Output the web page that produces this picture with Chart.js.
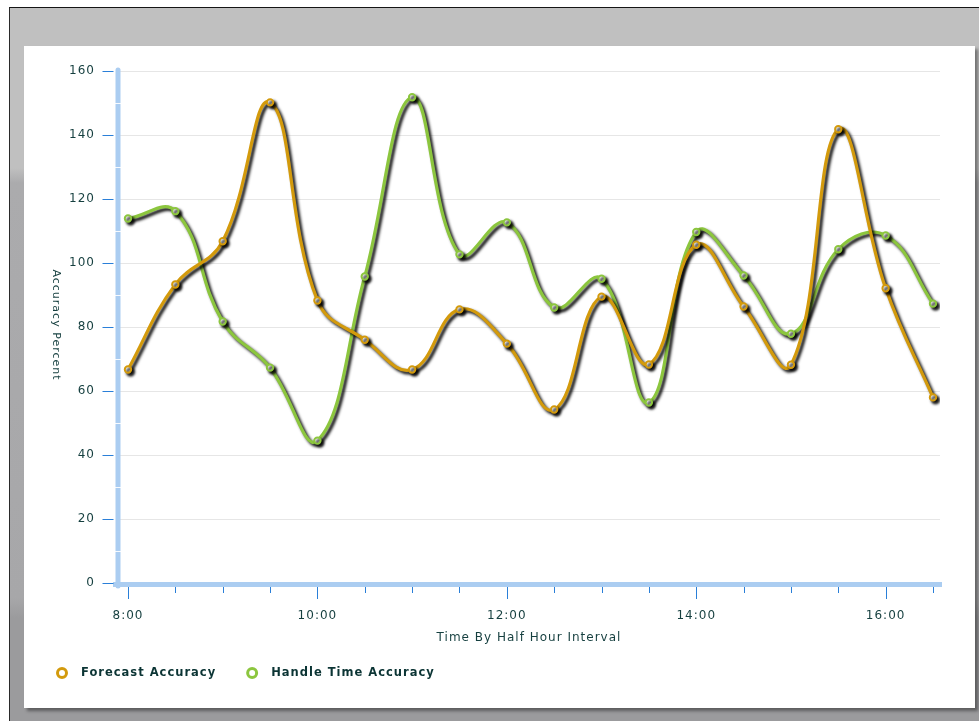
<!DOCTYPE html>
<html>
<head>
<meta charset="utf-8">
<script src="https://cdn.jsdelivr.net/npm/chart.js@4.4.1/dist/chart.umd.min.js"></script>
<style>
html,body{margin:0;padding:0;background:#fff;width:979px;height:721px;overflow:hidden;}
#frame{position:absolute;left:9px;top:7px;width:970px;height:714px;border-top:1px solid #151515;border-left:1px solid #2a2a2a;box-sizing:border-box;
  background:linear-gradient(to bottom,#c0c0c0 0px,#c0c0c0 160px,#ababad 175px,#a7a7a9 590px,#9b9b9d 610px,#9b9b9d 714px);}
#panel{position:absolute;left:24px;top:46px;width:951px;height:662px;background:#fff;box-shadow:3px 3px 3px rgba(0,0,0,0.4);}
canvas{display:block;}
</style>
</head>
<body>
<div id="frame"></div>
<div id="panel"><canvas id="c" width="951" height="662"></canvas></div>
<script>
// ---- data ----
const times = ['8:00','8:30','9:00','9:30','10:00','10:30','11:00','11:30','12:00','12:30',
               '13:00','13:30','14:00','14:30','15:00','15:30','16:00','16:30'];
const shownTimeLabels = ['8:00','10:00','12:00','14:00','16:00'];
const forecastAccuracy = [66.7, 93.3, 106.8, 150.2, 88.3, 76.0, 66.7, 85.5, 74.8, 54.2,
                          89.5, 68.3, 105.7, 86.4, 68.2, 141.8, 92.1, 58.0];
const handleTimeAccuracy = [113.9, 116.2, 81.7, 67.3, 44.5, 95.8, 151.8, 102.7, 112.7, 86.1,
                            95.1, 56.4, 109.7, 96.1, 77.9, 104.3, 108.6, 87.3];
const yTickValues = [0, 20, 40, 60, 80, 100, 120, 140, 160];
const yMinorValues = [10, 30, 50, 70, 90, 110, 130, 150];
const seriesNames = ['Forecast Accuracy', 'Handle Time Accuracy'];

// ---- styles ----
const FONT = 'DejaVu Sans';
const TXT = '#153f3f';
const LEG = '#0b3434';
const AXIS = '#abcdf1';
const TICK = '#2a7fd8';
const ORANGE = '#d39a0c';
const GREEN = '#8cc63e';

const spacing = {
  id: 'spacing',
  beforeUpdate(chart) { chart.ctx.letterSpacing = '1px'; },
  beforeDraw(chart) { chart.ctx.letterSpacing = '1px'; }
};

const shadow = {
  id: 'shadow',
  beforeDatasetDraw(chart) {
    const ctx = chart.ctx;
    ctx.save();
    ctx.shadowColor = 'rgba(0,0,0,1)';
    ctx.shadowBlur = 3;
    ctx.shadowOffsetX = 2.5;
    ctx.shadowOffsetY = 2.5;
  },
  afterDatasetDraw(chart) { chart.ctx.restore(); }
};

const axisDeco = {
  id: 'axisDeco',
  beforeDatasetsDraw(chart) {
    const {ctx, chartArea: a, scales: {x, y}} = chart;
    ctx.save();
    ctx.strokeStyle = AXIS;
    ctx.lineWidth = 5;
    ctx.lineCap = 'round';
    ctx.beginPath();
    ctx.moveTo(a.left, a.top - 1);
    ctx.lineTo(a.left, a.bottom + 3);
    ctx.stroke();
    ctx.lineCap = 'butt';
    ctx.beginPath();
    ctx.moveTo(a.left - 5, a.bottom + 1.5);
    ctx.lineTo(a.right + 2, a.bottom + 1.5);
    ctx.stroke();
    // small gaps on the y axis band
    ctx.strokeStyle = 'rgba(255,255,255,0.9)';
    ctx.lineWidth = 1;
    yMinorValues.forEach(v => {
      const py = Math.round(y.getPixelForValue(v)) + 0.5;
      ctx.beginPath(); ctx.moveTo(a.left - 3, py); ctx.lineTo(a.left + 3, py); ctx.stroke();
    });
    // y tick marks
    ctx.strokeStyle = TICK;
    yTickValues.forEach(v => {
      const py = Math.round(y.getPixelForValue(v)) + 0.5;
      ctx.beginPath(); ctx.moveTo(a.left - 15.5, py); ctx.lineTo(a.left - 4.5, py); ctx.stroke();
    });
    // x tick marks
    times.forEach((t, i) => {
      const px = Math.round(x.getPixelForValue(i)) + 0.5;
      const len = shownTimeLabels.includes(t) ? 12 : 6;
      ctx.beginPath(); ctx.moveTo(px, a.bottom + 4); ctx.lineTo(px, a.bottom + 4 + len); ctx.stroke();
    });
    ctx.restore();
  }
};

const extras = {
  id: 'extras',
  afterDraw(chart) {
    const {ctx, chartArea: a} = chart;
    ctx.save();
    ctx.letterSpacing = '1px';
    // y axis title, reading top to bottom
    ctx.fillStyle = TXT;
    ctx.font = '11px "' + FONT + '"';
    ctx.translate(32, (a.top + a.bottom) / 2 - 2);
    ctx.rotate(Math.PI / 2);
    ctx.textAlign = 'center';
    ctx.textBaseline = 'middle';
    ctx.fillText('Accuracy Percent', 0, 0);
    ctx.restore();

    // legend
    ctx.save();
    ctx.letterSpacing = '1px';
    ctx.font = 'bold 11.5px "' + FONT + '"';
    ctx.textBaseline = 'middle';
    ctx.textAlign = 'left';
    const ly = 627;
    let cx = 38;
    chart.data.datasets.forEach(ds => {
      ctx.beginPath();
      ctx.arc(cx, ly, 4.5, 0, Math.PI * 2);
      ctx.fillStyle = '#fff';
      ctx.fill();
      ctx.lineWidth = 3;
      ctx.strokeStyle = ds.borderColor;
      ctx.stroke();
      const tx = cx + 19;
      ctx.fillStyle = LEG;
      ctx.fillText(ds.label, tx, ly + 0.5);
      cx = tx + ctx.measureText(ds.label).width + 36;
    });
    ctx.restore();
  }
};

const toPoints = arr => arr.map((v, i) => ({x: i, y: v}));

new Chart(document.getElementById('c'), {
  type: 'line',
  data: {
    datasets: [
      {label: seriesNames[0], data: toPoints(forecastAccuracy), borderColor: ORANGE,
       pointBorderColor: ORANGE, pointBackgroundColor: '#fff'},
      {label: seriesNames[1], data: toPoints(handleTimeAccuracy), borderColor: GREEN,
       pointBorderColor: GREEN, pointBackgroundColor: '#fff'}
    ]
  },
  options: {
    responsive: false,
    animation: false,
    events: [],
    layout: {padding: {left: 0, right: 35, top: 25, bottom: 64}},
    elements: {
      line: {tension: 0.42, borderWidth: 3.2, fill: false},
      point: {radius: 3.2, borderWidth: 2}
    },
    plugins: {legend: {display: false}, tooltip: {enabled: false}},
    scales: {
      x: {
        type: 'linear', min: -0.211, max: 17.148,
        afterBuildTicks: s => { s.ticks = times.map((t, i) => ({value: i})); },
        afterFit: s => { s.height = 61; },
        grid: {display: false, drawTicks: false},
        border: {display: false},
        ticks: {
          autoSkip: false, maxRotation: 0, minRotation: 0, padding: 26,
          color: TXT, font: {family: FONT, size: 12},
          callback: v => (shownTimeLabels.includes(times[v]) ? times[v] : '')
        },
        title: {display: true, text: 'Time By Half Hour Interval', color: TXT,
                font: {family: FONT, size: 12}, padding: {top: 0, bottom: -1}}
      },
      y: {
        min: 0, max: 160,
        afterBuildTicks: s => { s.ticks = yTickValues.map(v => ({value: v})); },
        afterFit: s => { s.width = 94; },
        grid: {color: '#e6e6e6', lineWidth: 1, drawTicks: true, tickLength: 23, tickColor: 'rgba(0,0,0,0)'},
        border: {display: false},
        ticks: {padding: 0, color: TXT, font: {family: FONT, size: 12}}
      }
    }
  },
  plugins: [spacing, axisDeco, shadow, extras]
});
</script>
</body>
</html>
